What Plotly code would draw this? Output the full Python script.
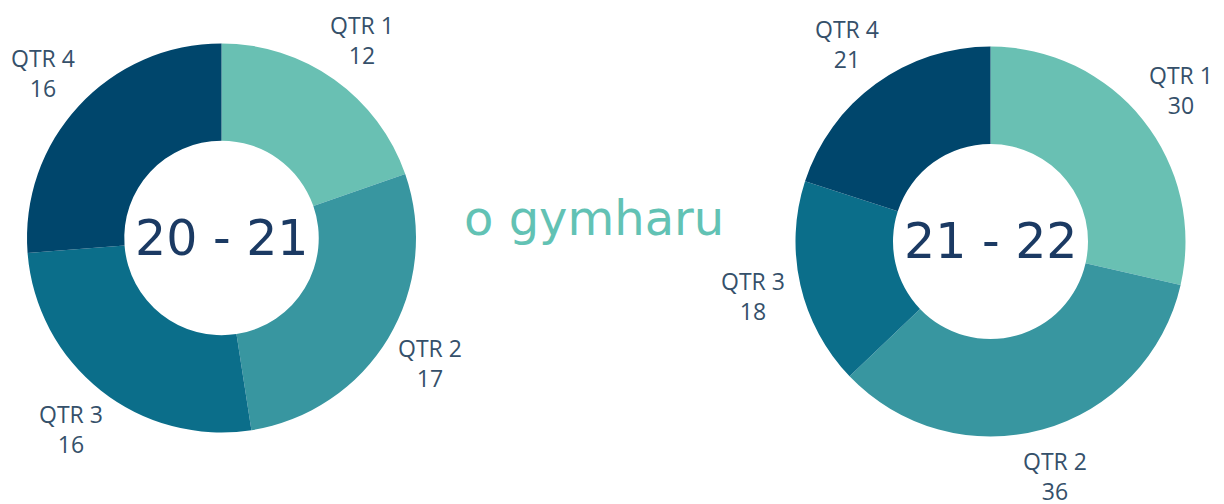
import math
import plotly.graph_objects as go

quarters = ["QTR 1", "QTR 2", "QTR 3", "QTR 4"]
values_2021 = [12, 17, 16, 16]
values_2122 = [30, 36, 18, 21]
center_labels = ["20 - 21", "21 - 22"]
middle_text = "o gymharu"

colors = ["#69C0B3", "#3896A0", "#0B6E8A", "#00466C"]
label_color = "#35506A"
center_color = "#1B3A63"
teal_text = "#62C2B4"

W, H = 1224, 504
# pie placement in pixels (center x, center y from top, radius)
pies = [
    dict(cx=221.5, cy=238.0, r=194.5, values=values_2021, title=center_labels[0]),
    dict(cx=990.5, cy=241.5, r=195.0, values=values_2122, title=center_labels[1]),
]

fig = go.Figure()
annotations = []
for p in pies:
    xd = [(p["cx"] - p["r"]) / W, (p["cx"] + p["r"]) / W]
    yc = (H - p["cy"]) / H
    yd = [yc - p["r"] / H, yc + p["r"] / H]
    fig.add_trace(go.Pie(
        labels=quarters, values=p["values"], hole=0.5, sort=False,
        direction="clockwise", rotation=0,
        marker=dict(colors=colors, line=dict(width=0)),
        textinfo="none", hoverinfo="label+value", showlegend=False,
        domain=dict(x=xd, y=yd),
    ))
    # centre text
    annotations.append(dict(
        x=p["cx"] / W, y=yc, xref="paper", yref="paper", text=p["title"],
        showarrow=False, xanchor="center", yanchor="middle",
        font=dict(family="DejaVu Sans", size=49, color=center_color),
    ))
    # outside labels at 1.25 r, along each slice's mid-angle
    total = sum(p["values"])
    cum = 0
    for q, v in zip(quarters, p["values"]):
        mid = (cum + v / 2) / total * 2 * math.pi
        cum += v
        lx = p["cx"] + 1.25 * p["r"] * math.sin(mid)
        ly = p["cy"] - 1.25 * p["r"] * math.cos(mid)
        annotations.append(dict(
            x=lx / W, y=(H - ly) / H, xref="paper", yref="paper",
            text=f"{q}<br>{v}", showarrow=False, xanchor="center", yanchor="middle",
            font=dict(family="Open Sans", size=23, color=label_color),
        ))

annotations.append(dict(
    x=594 / W, y=(H - 218) / H, xref="paper", yref="paper", text=middle_text,
    showarrow=False, xanchor="center", yanchor="middle",
    font=dict(family="DejaVu Sans", size=48, color=teal_text),
))

fig.update_layout(
    width=W, height=H, margin=dict(l=0, r=0, t=0, b=0),
    paper_bgcolor="white", plot_bgcolor="white",
    annotations=annotations,
)
fig.write_html(
    "out.html",
    config={"displayModeBar": False},
    post_script="document.body.style.margin='0';document.body.style.overflow='hidden';",
)
